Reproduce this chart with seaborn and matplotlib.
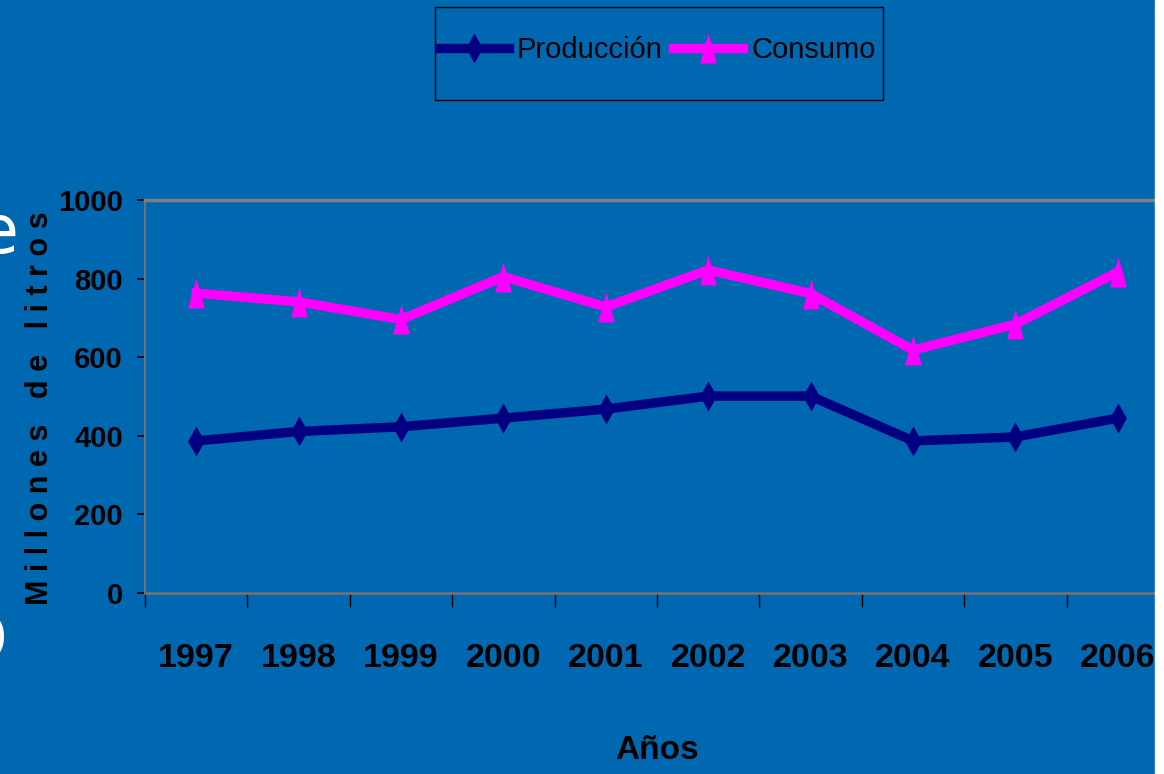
import matplotlib.pyplot as plt
import matplotlib.patches as mpatches
from matplotlib.lines import Line2D
from matplotlib.ticker import FixedLocator
import seaborn as sns
import pandas as pd

anios = [1997, 1998, 1999, 2000, 2001, 2002, 2003, 2004, 2005, 2006]
produccion = [387, 411, 423, 445, 468, 501, 501, 387, 397, 445]
consumo = [763, 741, 696, 805, 728, 822, 762, 618, 684, 817]
series = ["Producción", "Consumo"]
colores = {"Producción": "#000080", "Consumo": "#FF00FF"}

fondo = "#0068B0"
fuente = ["Liberation Sans", "DejaVu Sans"]

df = pd.DataFrame({
    "Año": anios * 2,
    "Serie": ["Producción"] * len(anios) + ["Consumo"] * len(anios),
    "Valor": produccion + consumo,
})

# marcadores estrechos como en el original
diamante = [(0, 0.5), (0.28, 0), (0, -0.5), (-0.28, 0), (0, 0.5)]
triangulo = [(-0.28, -0.5), (0, 0.5), (0.28, -0.5), (-0.28, -0.5)]
marcadores = {"Producción": diamante, "Consumo": triangulo}

fig = plt.figure(figsize=(11.64, 7.74), dpi=100, facecolor=fondo)
ax = fig.add_axes([145 / 1164, 181 / 774, 1024 / 1164, 393 / 774])
ax.set_facecolor(fondo)

for s in series:
    sns.lineplot(data=df[df["Serie"] == s], x="Año", y="Valor", ax=ax,
                 color=colores[s], linewidth=6.8, marker=marcadores[s],
                 markersize=21.6, markeredgewidth=0, legend=False)

ax.set_xlim(1996.5, 2006.5)
ax.set_ylim(0, 1000)
ax.set_yticks([0, 200, 400, 600, 800, 1000])
ax.set_xticks(anios)
ax.xaxis.set_minor_locator(FixedLocator([a - 0.5 for a in anios] + [2006.5]))
ax.tick_params(axis="x", which="major", length=0, pad=36, labelsize=24.5, colors="black")
ax.tick_params(axis="x", which="minor", length=10, width=1, color="black")
ax.tick_params(axis="y", length=6, width=1.2, pad=10, labelsize=21, colors="black")
for lab in ax.get_xticklabels() + ax.get_yticklabels():
    lab.set_family(fuente)
    lab.set_weight("bold")

ax.spines["right"].set_visible(False)
ax.spines["top"].set_color("#808080")
ax.spines["top"].set_linewidth(2.5)
ax.spines["left"].set_color("#707070")
ax.spines["left"].set_linewidth(1.5)
ax.spines["bottom"].set_color("#707070")
ax.spines["bottom"].set_linewidth(2)

ax.set_xlabel("Años", fontsize=24, fontweight="bold", family=fuente, color="black")
ax.xaxis.set_label_coords(0.5, (593 - 735) / 393)
ax.xaxis.label.set_va("top")

ax.set_ylabel("M i l l o n e s   d e   l i t r o s", fontsize=22,
              fontweight="bold", family=fuente, color="black")
ax.yaxis.set_label_coords((40 - 145) / 1024, (593 - 408) / 393)
ax.yaxis.label.set_va("center")

# leyenda arriba con marco rectangular
handles = [Line2D([], [], color=colores[s], linewidth=6.8, marker=marcadores[s],
                  markersize=21.6, markeredgewidth=0) for s in series]
fig.legend(handles, series, loc="center", bbox_to_anchor=(657 / 1164, 1 - 50 / 774),
           ncol=2, frameon=False, handlelength=2.4, handletextpad=0.28,
           columnspacing=0.35, prop={"family": fuente, "size": 21})
fig.patches.append(mpatches.Rectangle((435 / 1164, 1 - 100 / 774), 448 / 1164, 93 / 774,
                                      transform=fig.transFigure, fill=False,
                                      edgecolor="black", linewidth=1))

# restos del fondo de la diapositiva
fig.text(18 / 1164, 1 - 253 / 774, "e", color="white", fontsize=48, ha="right", va="baseline")
fig.text(8 / 1164, 1 - 660 / 774, "o", color="white", fontsize=62, ha="right", va="baseline")
fig.patches.append(mpatches.Rectangle((1155 / 1164, 0), 9 / 1164, 1, transform=fig.transFigure,
                                      color="white", zorder=10))

fig.savefig("out.png", dpi=100, facecolor=fondo)
